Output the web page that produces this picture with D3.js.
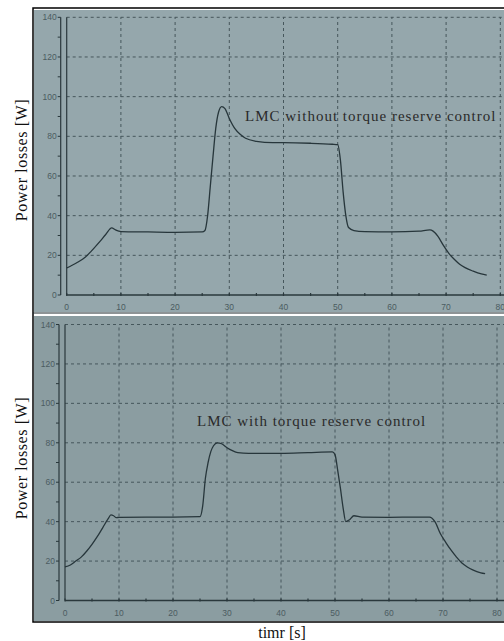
<!DOCTYPE html>
<html><head><meta charset="utf-8">
<script src="https://cdn.jsdelivr.net/npm/d3@7"></script>
<style>html,body{margin:0;padding:0;background:#fff;}svg{display:block;}</style>
</head><body>
<svg id="chart" width="504" height="641"></svg>
<script>
// ---- data ----
const xTicks = [0,10,20,30,40,50,60,70,80];
const yTicks = [0,20,40,60,80,100,120,140];
const topTime = [0,1,2,3.4,4.5,6.1,7.2,8.3,9,9.6,10,15,20,25,25.5,26,26.5,27,27.5,28,28.6,29.2,30,31,32,33,35,38,40,45,49,50,50.5,51,51.5,52,53,55,60,65,67,67.6,68.5,69.5,70.5,71.5,72.5,73.5,75,76.5,77.5];
const topLoss = [13.6,15,16.5,19,22,26.9,30.5,33.8,32.8,32.2,32,31.8,31.6,31.8,32.5,40,55,70,84,92,95,94,89,84,81,79,77.5,76.8,76.8,76.5,76,75.8,68,52,40,34,32.5,32,31.8,32.2,32.8,32.2,29.5,25,21,18,15.5,13.8,12,10.6,10];
const botTime = [0,1,2,3,4,5,6,7,8,8.5,9,9.5,10,15,20,25,25.5,26,26.5,27,27.5,28.2,29,30,31,32,34,40,45,49.5,50,50.5,51,51.5,52,52.7,53.5,55,60,65,67.5,68.5,69.5,70.5,71.5,72.5,73.5,74.5,75.5,77,77.8];
const botLoss = [17,18,20,22,25,28.5,32.5,37,41.5,43.4,43,42,42.2,42.3,42.3,42.5,48,62,70,75.5,78.5,80,79.5,77.5,76,75,74.6,74.6,75,75.4,74,66,57,47,40,41,43,42.3,42.2,42.3,42.3,40,34,29.5,25.5,22,19,17,15.5,14,13.6];
const panels = [
  {time: topTime, loss: topLoss, label: "LMC without torque reserve control"},
  {time: botTime, loss: botLoss, label: "LMC with torque reserve control"}
];

// ---- layout ----
const svg = d3.select("#chart");
const layout = [
  {bgTop: 10, bgBot: 312, fill: "#95a7ac", x0: 66.7, x80: 500.3, y0: 295, y140: 17.3, tickY: 307, ann: [245, 121], labY: 160},
  {bgTop: 316, bgBot: 621, fill: "#8b9da1", x0: 65, x80: 497, y0: 600.5, y140: 324.5, tickY: 613, ann: [197, 426], labY: 458}
];
const frameLeft = 33;

// outer frame
svg.append("rect").attr("x", frameLeft).attr("y", 8).attr("width", 504 - frameLeft + 5).attr("height", 622 - 8)
  .attr("fill", "#fff").attr("stroke", "#000").attr("stroke-width", 1.5);

panels.forEach((p, i) => {
  const L = layout[i];
  const g = svg.append("g");
  g.append("rect").attr("x", frameLeft + 1).attr("y", L.bgTop).attr("width", 504 - frameLeft).attr("height", L.bgBot - L.bgTop).attr("fill", L.fill);
  if (i === 0) g.append("line").attr("x1", frameLeft).attr("x2", 504).attr("y1", 313).attr("y2", 313).attr("stroke", "#1e2a2e").attr("stroke-width", 1.2);

  const x = d3.scaleLinear().domain([0, 80]).range([L.x0, L.x80]);
  const y = d3.scaleLinear().domain([0, 140]).range([L.y0, L.y140]);

  // grid
  const gridColor = "#46575c";
  g.selectAll(".hg").data(yTicks.filter(d => d > 0)).join("line")
    .attr("x1", x(0)).attr("x2", 504).attr("y1", d => y(d)).attr("y2", d => y(d))
    .attr("stroke", gridColor).attr("stroke-width", 1).attr("stroke-dasharray", "3,3");
  g.selectAll(".vg").data(xTicks.filter(d => d > 0)).join("line")
    .attr("x1", d => x(d)).attr("x2", d => x(d)).attr("y1", y(0)).attr("y2", y(140))
    .attr("stroke", gridColor).attr("stroke-width", 1).attr("stroke-dasharray", "3,3");

  // axes lines
  const axisColor = "#2a383c";
  g.append("line").attr("x1", x(0)).attr("x2", x(0)).attr("y1", y(0)).attr("y2", y(140)).attr("stroke", axisColor).attr("stroke-width", 1.2);
  g.append("line").attr("x1", x(0) - 6).attr("x2", x(0) - 6).attr("y1", y(0)).attr("y2", y(140)).attr("stroke", axisColor).attr("stroke-width", 1.2);
  g.append("line").attr("x1", x(0)).attr("x2", 504).attr("y1", y(0)).attr("y2", y(0)).attr("stroke", axisColor).attr("stroke-width", 1.3);

  // y ticks (major + minor)
  const yMinor = d3.range(0, 141, 10);
  g.selectAll(".yt").data(yMinor).join("line")
    .attr("x1", x(0) - 9).attr("x2", x(0) - 6).attr("y1", d => y(d)).attr("y2", d => y(d))
    .attr("stroke", axisColor).attr("stroke-width", 1);
  g.selectAll(".yl").data(yTicks).join("text")
    .attr("x", x(0) - 10).attr("y", d => y(d) + 3).attr("text-anchor", "end")
    .attr("font-family", "Liberation Sans, Arial, sans-serif").attr("font-size", 8.5).attr("fill", "#4b5c61")
    .text(d => d);
  // x ticks
  const xMinor = d3.range(0, 81, 5);
  g.selectAll(".xt").data(xMinor).join("line")
    .attr("x1", d => x(d)).attr("x2", d => x(d)).attr("y1", y(0) - 2).attr("y2", y(0) + 1)
    .attr("stroke", axisColor).attr("stroke-width", 1.2);
  g.selectAll(".xl").data(xTicks).join("text")
    .attr("x", d => x(d)).attr("y", L.tickY + 3).attr("text-anchor", "middle")
    .attr("font-family", "Liberation Sans, Arial, sans-serif").attr("font-size", 8.5).attr("fill", "#4b5c61")
    .text(d => d);

  // curve
  const pts = p.time.map((t, k) => [t, p.loss[k]]);
  g.append("path").datum(pts)
    .attr("d", d3.line().x(d => x(d[0])).y(d => y(d[1])).curve(d3.curveMonotoneX))
    .attr("fill", "none").attr("stroke", "#27363b").attr("stroke-width", 1.3);

  // annotation
  g.append("text").attr("x", L.ann[0]).attr("y", L.ann[1])
    .attr("font-family", "Liberation Serif, Times New Roman, serif").attr("font-size", 15)
    .attr("letter-spacing", 1).attr("fill", "#2a2a2a")
    .text(p.label);

  // y label
  svg.append("text").attr("transform", `translate(27,${L.labY}) rotate(-90)`).attr("text-anchor", "middle")
    .attr("font-family", "Liberation Serif, Times New Roman, serif").attr("font-size", 16)
    .attr("letter-spacing", 0.6).attr("fill", "#111")
    .text("Power losses [W]");
});

svg.append("text").attr("x", 282).attr("y", 638).attr("text-anchor", "middle")
  .attr("font-family", "Liberation Serif, Times New Roman, serif").attr("font-size", 16).attr("fill", "#111")
  .text("timr [s]");
</script>
</body></html>
